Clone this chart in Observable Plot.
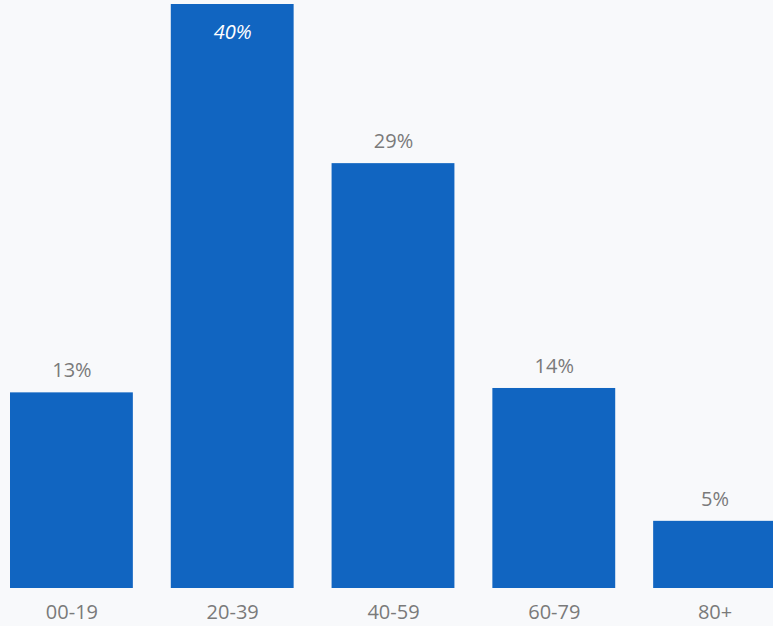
<!DOCTYPE html>
<html>
<head>
<meta charset="utf-8">
<script src="https://cdn.jsdelivr.net/npm/d3@7"></script>
<script src="https://cdn.jsdelivr.net/npm/@observablehq/plot@0.6"></script>
<style>
  html, body { margin: 0; padding: 0; background: #f8f9fb; overflow: hidden; }
  #chart svg { background: #f8f9fb; display: block; }
</style>
</head>
<body>
<div id="chart"></div>
<script>
const ageGroups = ["00-19", "20-39", "40-59", "60-79", "80+"];
const shares = [13.4, 40, 29.1, 13.7, 4.6];
const labels = ["13%", "40%", "29%", "14%", "5%"];

const data = ageGroups.map((g, i) => ({group: g, value: shares[i], label: labels[i], inside: i === 1}));

const chart = Plot.plot({
  width: 773,
  height: 626,
  marginTop: 4,
  marginBottom: 38,
  marginLeft: 10,
  marginRight: 0,
  style: {background: "#f8f9fb", fontFamily: "'Open Sans', sans-serif", overflow: "hidden"},
  x: {domain: ageGroups, range: [10, 776], paddingInner: 0.236, paddingOuter: 0, round: false, label: null},
  y: {domain: [0, 40], axis: null},
  marks: [
    Plot.barY(data, {x: "group", y: "value", fill: "#1165c1"}),
    Plot.text(data.filter(d => !d.inside), {x: "group", y: "value", text: "label", dy: -22, fill: "#7a7a7a", fontSize: 20}),
    Plot.text(data.filter(d => d.inside), {x: "group", y: "value", text: "label", dy: 28, fill: "#ffffff", fontSize: 20, fontStyle: "italic"}),
    Plot.axisX({tickSize: 0, tickPadding: 16, fontSize: 20, color: "#7a7a7a"})
  ]
});
document.getElementById("chart").append(chart);
</script>
</body>
</html>
